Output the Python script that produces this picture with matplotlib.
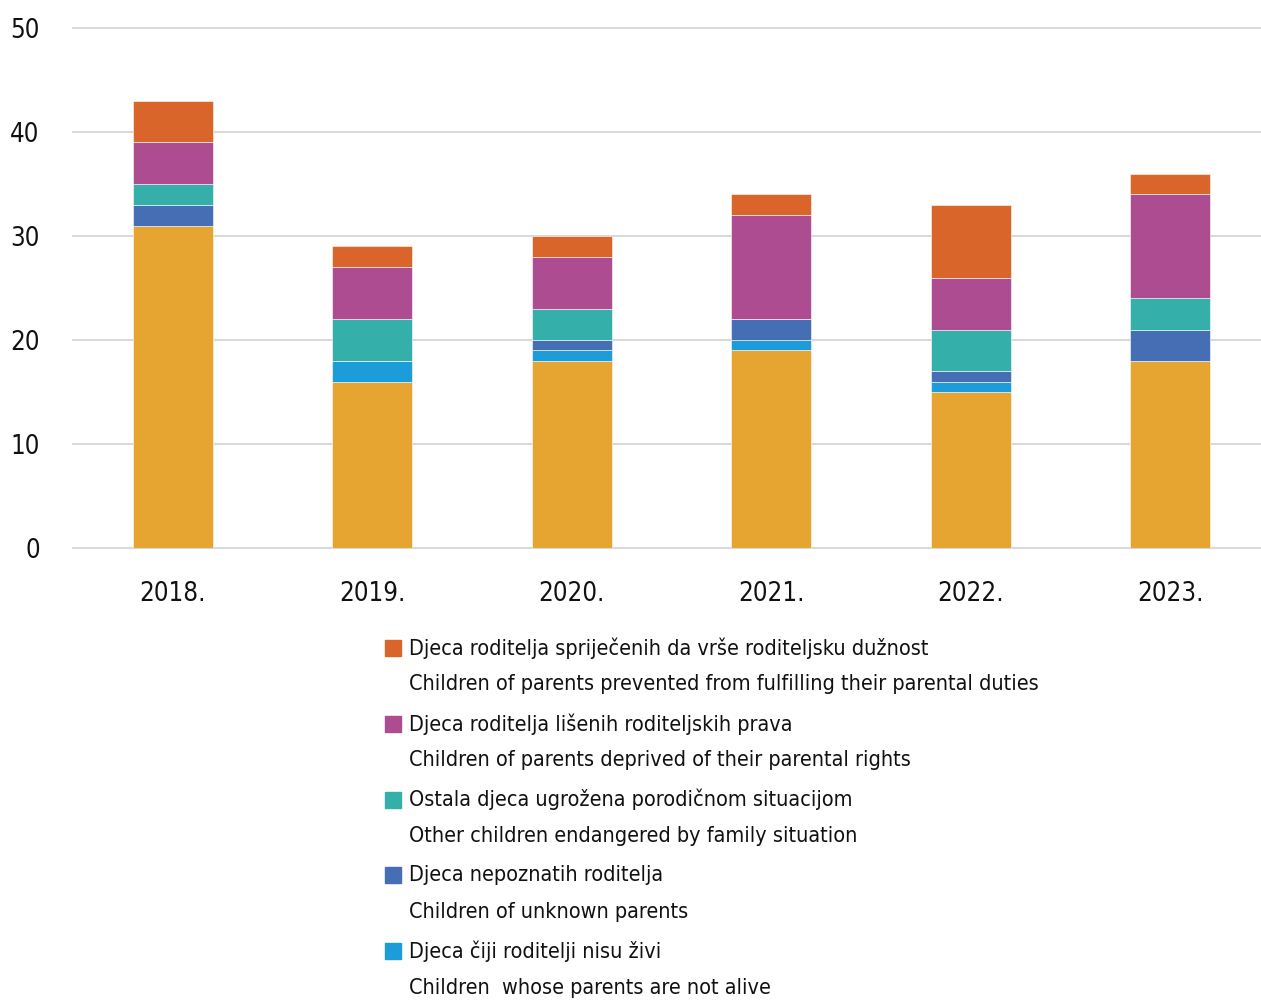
import numpy as np
import matplotlib
matplotlib.use("Agg")
import matplotlib.pyplot as plt
from matplotlib.patches import Rectangle

###############################################################
# data
###############################################################
years = ["2018.", "2019.", "2020.", "2021.", "2022.", "2023."]

base       = [31, 16, 18, 19, 15, 18]   # yellow series (not in visible legend)
not_alive  = [0, 2, 1, 1, 1, 0]
unknown    = [2, 0, 1, 2, 1, 3]
other      = [2, 4, 3, 0, 4, 3]
deprived   = [4, 5, 5, 10, 5, 10]
prevented  = [4, 2, 2, 2, 7, 2]

series = [base, not_alive, unknown, other, deprived, prevented]
colors = ["#E5A530", "#1C9DD9", "#466EB4", "#35AFAA", "#AD4C91", "#D9652B"]

legend_hr = [
    "Djeca roditelja spriječenih da vrše roditeljsku dužnost",
    "Djeca roditelja lišenih roditeljskih prava",
    "Ostala djeca ugrožena porodičnom situacijom",
    "Djeca nepoznatih roditelja",
    "Djeca čiji roditelji nisu živi",
]
legend_en = [
    "Children of parents prevented from fulfilling their parental duties",
    "Children of parents deprived of their parental rights",
    "Other children endangered by family situation",
    "Children of unknown parents",
    "Children  whose parents are not alive",
]
legend_colors = ["#D9652B", "#AD4C91", "#35AFAA", "#466EB4", "#1C9DD9"]

###############################################################
# font (narrow look)
###############################################################
plt.rcParams["font.family"] = ["DejaVu Sans"]
plt.rcParams["font.stretch"] = "condensed"

###############################################################
# plot
###############################################################
W, H = 1261, 1001
fig = plt.figure(figsize=(W / 100, H / 100), dpi=100)
ax = fig.add_axes([73 / W, 1 - 548 / H, 1 - 73 / W, (548 - 28) / H])

x = np.arange(len(years))
bottom = np.zeros(len(years))
for vals, col in zip(series, colors):
    ax.bar(x, vals, width=0.4, bottom=bottom, color=col,
           edgecolor="#ffffff", linewidth=0.4, zorder=3)
    bottom += np.array(vals)

ax.set_ylim(0, 50)
ax.set_xlim(-0.5, 5.455)
ax.set_yticks(range(0, 51, 10))
ax.set_xticks(x)
ax.set_xticklabels(years)
ax.grid(axis="y", color="#d9d9d9", linewidth=1.5, zorder=0)
for gl in ax.get_ygridlines():
    gl.set_clip_on(False)
for s in ax.spines.values():
    s.set_visible(False)
ax.tick_params(axis="both", length=0, labelsize=18.5, colors="#111111")
ax.tick_params(axis="y", pad=24)
ax.tick_params(axis="x", pad=24)

# legend drawn by hand (two lines per entry)
y0 = 648
for i, (hr, en, col) in enumerate(zip(legend_hr, legend_en, legend_colors)):
    yc = y0 + i * 75.8
    fig.patches.append(Rectangle((385 / W, 1 - (yc + 8) / H), 16 / W, 16 / H,
                                 transform=fig.transFigure, color=col))
    fig.text(409 / W, 1 - yc / H, hr, fontsize=15.5, va="center", ha="left", color="#111111")
    fig.text(409 / W, 1 - (yc + 36.5) / H, en, fontsize=15.5, va="center", ha="left", color="#111111")

fig.savefig("out.png", dpi=100)
